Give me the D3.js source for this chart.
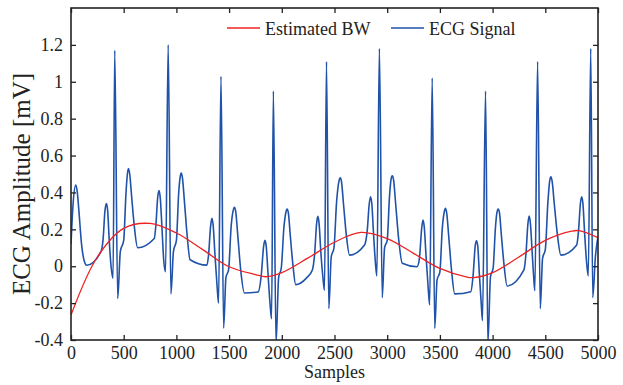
<!DOCTYPE html>
<html>
<head>
<meta charset="utf-8">
<script src="https://cdn.jsdelivr.net/npm/d3@7"></script>
<style>
  body { margin: 0; background: #fff; }
  svg text { font-family: "Liberation Serif", "DejaVu Serif", serif; fill: #222; }
</style>
</head>
<body>
<svg id="chart" width="623" height="385"></svg>
<script>
// ECG signal: [sample, amplitude in mV]
var ecgPoints = [
  [0, 0.12], [20, 0.34], [45, 0.44], [60, 0.40], [75, 0.30], [100, 0.12], [125, 0.03], [150, 0.005],
  // beat 1
  [285, 0.08], [305, 0.15], [322, 0.30], [336, 0.34], [348, 0.30], [360, 0.17], [380, 0.0], [399, -0.066],
  [415, 1.17], [443, -0.175], [468, 0.08], [500, 0.14],
  [522, 0.40], [535, 0.50], [545, 0.53], [557, 0.50], [575, 0.38], [600, 0.22], [632, 0.10], [790, 0.15],
  // beat 2
  [805, 0.22], [822, 0.37], [835, 0.41], [847, 0.37], [862, 0.22], [880, 0.03], [897, -0.03],
  [922, 1.20], [948, -0.15], [972, 0.08], [1000, 0.14],
  [1022, 0.40], [1035, 0.48], [1045, 0.505], [1057, 0.48], [1075, 0.36], [1100, 0.18], [1130, 0.035], [1290, 0.006],
  // beat 3
  [1305, 0.06], [1325, 0.22], [1337, 0.26], [1349, 0.22], [1365, 0.07], [1385, -0.10], [1400, -0.20],
  [1423, 1.03], [1448, -0.335], [1470, -0.06], [1495, -0.02],
  [1520, 0.22], [1538, 0.30], [1550, 0.32], [1562, 0.30], [1582, 0.17], [1610, -0.02], [1645, -0.145], [1775, -0.14],
  // beat 4
  [1805, -0.05], [1828, 0.11], [1840, 0.14], [1852, 0.11], [1868, -0.03], [1888, -0.20], [1903, -0.285],
  [1920, 0.95], [1945, -0.42], [1970, -0.06], [1995, -0.01],
  [2020, 0.21], [2038, 0.29], [2050, 0.31], [2062, 0.29], [2080, 0.17], [2105, 0.01], [2132, -0.10], [2231, -0.066], [2290, -0.02],
  // beat 5
  [2312, 0.07], [2330, 0.23], [2342, 0.27], [2354, 0.23], [2370, 0.08], [2390, -0.06], [2405, -0.13],
  [2424, 1.11], [2446, -0.23], [2469, 0.05], [2495, 0.10],
  [2520, 0.35], [2542, 0.46], [2554, 0.48], [2566, 0.46], [2585, 0.34], [2612, 0.17], [2643, 0.06], [2785, 0.115],
  // beat 6
  [2810, 0.19], [2830, 0.34], [2842, 0.377], [2854, 0.34], [2870, 0.18], [2888, 0.02], [2902, -0.053],
  [2926, 1.18], [2953, -0.17], [2975, 0.10], [3000, 0.14],
  [3022, 0.38], [3036, 0.47], [3048, 0.49], [3060, 0.47], [3080, 0.34], [3110, 0.14], [3143, 0.016], [3283, -0.003],
  // beat 7
  [3305, 0.04], [3328, 0.21], [3340, 0.25], [3352, 0.21], [3368, 0.06], [3388, -0.11], [3403, -0.21],
  [3427, 1.02], [3451, -0.337], [3473, -0.075], [3500, -0.03],
  [3522, 0.20], [3540, 0.29], [3552, 0.314], [3564, 0.29], [3584, 0.16], [3610, -0.02], [3641, -0.15], [3793, -0.138],
  // beat 8
  [3815, -0.05], [3835, 0.11], [3847, 0.138], [3859, 0.11], [3874, -0.04], [3892, -0.20], [3904, -0.295],
  [3933, 0.95], [3955, -0.42], [3980, -0.057], [4005, -0.01],
  [4027, 0.21], [4041, 0.29], [4053, 0.31], [4065, 0.29], [4083, 0.17], [4108, 0.01], [4138, -0.107], [4297, -0.02],
  // beat 9
  [4317, 0.07], [4335, 0.23], [4347, 0.272], [4359, 0.23], [4375, 0.08], [4390, -0.06], [4401, -0.133],
  [4427, 1.11], [4452, -0.23], [4474, 0.043], [4500, 0.09],
  [4525, 0.35], [4541, 0.46], [4553, 0.485], [4565, 0.46], [4585, 0.34], [4615, 0.17], [4648, 0.06], [4798, 0.115],
  // beat 10
  [4815, 0.19], [4833, 0.34], [4845, 0.377], [4857, 0.34], [4873, 0.18], [4892, 0.02], [4908, -0.053],
  [4931, 1.18], [4950, -0.17], [4975, 0.05], [5000, 0.16]
];

// estimated baseline wander
var bwSamples = [0, 250, 500, 750, 1000, 1250, 1500, 1750, 1850, 2000, 2250, 2500,
  2750, 3000, 3250, 3500, 3750, 3820, 4000, 4250, 4500, 4750, 4820, 5000];
var bwValues = [-0.265, 0.05, 0.205, 0.232, 0.18, 0.09, -0.003, -0.045, -0.057, -0.035, 0.045, 0.13,
  0.183, 0.15, 0.07, -0.012, -0.058, -0.062, -0.035, 0.05, 0.14, 0.19, 0.193, 0.155];

var xTicks = [0, 500, 1000, 1500, 2000, 2500, 3000, 3500, 4000, 4500, 5000];
var yTicks = [-0.4, -0.2, 0, 0.2, 0.4, 0.6, 0.8, 1, 1.2];

var legendNames = ["Estimated BW", "ECG Signal"];
var colors = {bw: "#ee2222", ecg: "#1f52a8"};

var serif = '"Liberation Serif", "DejaVu Serif", serif';

var margin = {top: 8, right: 25, bottom: 45, left: 71};
var width = 623 - margin.left - margin.right;
var height = 385 - margin.top - margin.bottom;

var svg = d3.select("#chart")
  .append("g")
    .attr("transform", "translate(" + margin.left + "," + margin.top + ")");

var x = d3.scaleLinear().domain([0, 5000]).range([0, width]);
var y = d3.scaleLinear().domain([-0.4, 1.4]).range([height, 0]);

svg.append("clipPath").attr("id", "clip")
  .append("rect").attr("width", width).attr("height", height);

var bw = bwSamples.map(function(s, i) { return [s, bwValues[i]]; });

var ecgLine = d3.line()
  .x(function(d) { return x(d[0]); })
  .y(function(d) { return y(d[1]); })
  .curve(d3.curveMonotoneX);

var bwLine = d3.line()
  .x(function(d) { return x(d[0]); })
  .y(function(d) { return y(d[1]); })
  .curve(d3.curveCatmullRom);

svg.append("path")
  .datum(ecgPoints)
  .attr("clip-path", "url(#clip)")
  .attr("fill", "none")
  .attr("stroke", colors.ecg)
  .attr("stroke-width", 1.6)
  .attr("stroke-linejoin", "round")
  .attr("d", ecgLine);

svg.append("path")
  .datum(bw)
  .attr("clip-path", "url(#clip)")
  .attr("fill", "none")
  .attr("stroke", colors.bw)
  .attr("stroke-width", 1.3)
  .attr("d", bwLine);

// axes, ticks pointing in
var yFmt = function(d) { return String(+d.toFixed(1)); };
var xFmt = function(d) { return String(d); };

var axes = [
  svg.append("g").attr("transform", "translate(0," + height + ")")
    .call(d3.axisBottom(x).tickValues(xTicks).tickSizeInner(-5).tickSizeOuter(0).tickPadding(6).tickFormat(xFmt)),
  svg.append("g")
    .call(d3.axisTop(x).tickValues(xTicks).tickSizeInner(-5).tickSizeOuter(0).tickFormat("")),
  svg.append("g")
    .call(d3.axisLeft(y).tickValues(yTicks).tickSizeInner(-5).tickSizeOuter(0).tickPadding(8).tickFormat(yFmt)),
  svg.append("g").attr("transform", "translate(" + width + ",0)")
    .call(d3.axisRight(y).tickValues(yTicks).tickSizeInner(-5).tickSizeOuter(0).tickFormat(""))
];
axes.forEach(function(a) {
  a.attr("font-family", serif).attr("font-size", 18);
  a.select(".domain").remove();
  a.selectAll(".tick line").attr("stroke", "#222").attr("stroke-width", 1.3);
  a.selectAll("text").style("font-family", serif).attr("font-size", 18).attr("fill", "#222");
});

svg.append("rect")
  .attr("width", width).attr("height", height)
  .attr("fill", "none").attr("stroke", "#222").attr("stroke-width", 1.6);

// axis titles
svg.append("text")
  .attr("x", width / 2).attr("y", height + 38)
  .attr("text-anchor", "middle")
  .attr("font-size", 18)
  .text("Samples");

svg.append("text")
  .attr("transform", "rotate(-90)")
  .attr("x", -176).attr("y", -41)
  .attr("text-anchor", "middle")
  .attr("font-size", 25)
  .text("ECG Amplitude [mV]");

// legend
var legend = svg.append("g");
[[156, colors.bw], [320, colors.ecg]].forEach(function(l, i) {
  legend.append("line")
    .attr("x1", l[0]).attr("x2", l[0] + 33)
    .attr("y1", 20).attr("y2", 20)
    .attr("stroke", l[1]).attr("stroke-width", 1.4);
  legend.append("text")
    .attr("x", l[0] + 38).attr("y", 27)
    .attr("font-size", 18)
    .text(legendNames[i]);
});
</script>
</body>
</html>
